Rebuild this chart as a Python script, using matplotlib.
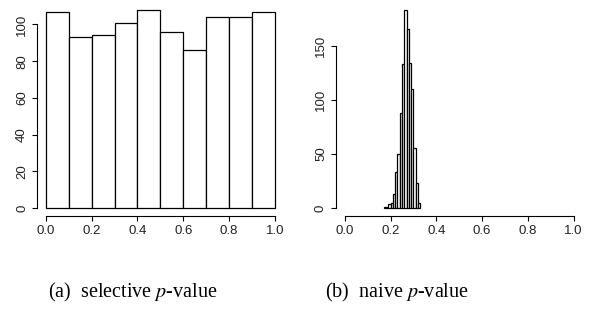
import matplotlib
matplotlib.use("Agg")
import matplotlib.pyplot as plt
import numpy as np

plt.rcParams["font.family"] = "Liberation Sans"
plt.rcParams["mathtext.fontset"] = "stix"

# selective p-values: 10 bins of width 0.1
sel_edges = [0.0, 0.1, 0.2, 0.3, 0.4, 0.5, 0.6, 0.7, 0.8, 0.9]
sel_counts = [107, 93, 94, 101, 108, 96, 86, 104, 104, 107]

# naive p-values: bins of width 0.01 from 0.17 to 0.33
naive_edges = [0.17, 0.18, 0.19, 0.20, 0.21, 0.22, 0.23, 0.24,
               0.25, 0.26, 0.27, 0.28, 0.29, 0.30, 0.31, 0.32]
naive_counts = [1, 1, 4, 5, 13, 33, 50, 88, 133, 183, 165, 134, 110, 55, 23, 5]

xticks = [0.0, 0.2, 0.4, 0.6, 0.8, 1.0]
xlabels = ["0.0", "0.2", "0.4", "0.6", "0.8", "1.0"]

fig = plt.figure(figsize=(5.91, 3.12), dpi=100)
ax1 = fig.add_axes([0.0623, 0.308, 0.418, 0.686])
ax2 = fig.add_axes([0.568, 0.308, 0.418, 0.686])


def r_hist(ax, edges, counts, width, yticks):
    ax.bar(edges, counts, width=width, align="edge", color="white",
           edgecolor="black", linewidth=0.9)
    top = max(counts)
    ax.set_xlim(-0.04, 1.04)
    ax.set_ylim(-0.04 * top, 1.04 * top)
    for s in ["top", "right"]:
        ax.spines[s].set_visible(False)
    ax.spines["bottom"].set_bounds(0, 1)
    ax.spines["left"].set_bounds(yticks[0], yticks[-1])
    ax.spines["bottom"].set_linewidth(0.8)
    ax.spines["left"].set_linewidth(0.8)
    ax.set_xticks(xticks)
    ax.set_xticklabels(xlabels)
    ax.set_yticks(yticks)
    ax.tick_params(direction="out", length=3.8, width=0.8, labelsize=9.5,
                   pad=2.5, labelcolor="#222222")
    for lbl in ax.get_yticklabels():
        lbl.set_rotation(90)
        lbl.set_va("center")


r_hist(ax1, sel_edges, sel_counts, 0.1, [0, 20, 40, 60, 80, 100])
r_hist(ax2, naive_edges, naive_counts, 0.01, [0, 50, 100, 150])

fig.text(0.225, 0.063, "(a)  selective $p$-value", ha="center", va="center",
         family="Liberation Serif", fontsize=14.5)
fig.text(0.672, 0.063, "(b)  naive $p$-value", ha="center", va="center",
         family="Liberation Serif", fontsize=14.5)

plt.savefig("out.png", dpi=100)
